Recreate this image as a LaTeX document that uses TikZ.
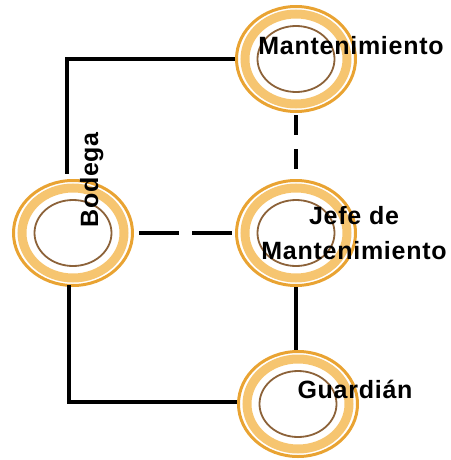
\documentclass[tikz,border=0pt]{standalone}
\usepackage{fontspec}
\usepackage{tikz}
\usetikzlibrary{shapes.geometric}
\newfontfamily\rotulo[LetterSpace=3]{Liberation Sans}

\begin{document}
\begin{tikzpicture}[x=1pt, y=-1pt,
    puesto/.style={ellipse, inner sep=0pt, minimum width=122pt, minimum height=108pt},
    texto/.style={font=\rotulo\bfseries\fontsize{25}{35}\selectfont, inner sep=0pt, align=center},
    enlace/.style={line width=4pt},
    enlaceH/.style={enlace, dash pattern=on 40pt off 13pt},
    enlaceV/.style={enlace, dash pattern=on 20pt off 14pt}]

    % Definimos colores
    \definecolor{naranjaO}{RGB}{233,163,50}   % borde exterior
    \definecolor{naranjaC}{RGB}{246,197,112}  % banda clara
    \definecolor{marronI}{RGB}{140,98,57}     % circulo interior

    \useasboundingbox (0,0) rectangle (450,460);

    % Puestos
    \node[puesto] (mant) at (296,59) {};
    \node[puesto] (jefe) at (296,233) {};
    \node[puesto] (bod) at (73,233) {};
    \node[puesto] (guard) at (298,404) {};

    % Anillos de cada puesto
    \foreach \n in {mant,jefe,bod,guard} {
        \draw[naranjaO, line width=3pt] (\n.center) ellipse (59.5 and 52.5);
        \draw[naranjaC, line width=9pt] (\n.center) ellipse (51 and 45);
        \draw[marronI, line width=1.8pt] (\n.center) ellipse (38.5 and 33);
    }

    % Rotulos
    \node[texto, anchor=base] (tmant) at (351,55) {Mantenimiento};
    \node[texto] (tjefe) at (354,233) {Jefe de\\Mantenimiento};
    \node[texto, anchor=base] (tguard) at (355,398) {Guardián};
    \node[texto, anchor=base, rotate=90] (tbod) at (98,180) {Bodega};

    % Conexiones continuas
    \draw[enlace] ([xshift=-6pt, yshift=5pt]bod.north) |- (mant.west);
    \draw[enlace] ([xshift=-4pt, yshift=2pt]bod.south) |- ([yshift=2pt]guard.west);
    \draw[enlace] (jefe.south) -- (jefe.south |- guard.north);

    % Conexiones discontinuas
    \draw[enlaceH, shorten <=5pt, shorten >=2pt] (bod.east) -- (jefe.west);
    \draw[enlaceV, shorten <=2pt, shorten >=10pt] (mant.south) -- (jefe.north);

\end{tikzpicture}
\end{document}
